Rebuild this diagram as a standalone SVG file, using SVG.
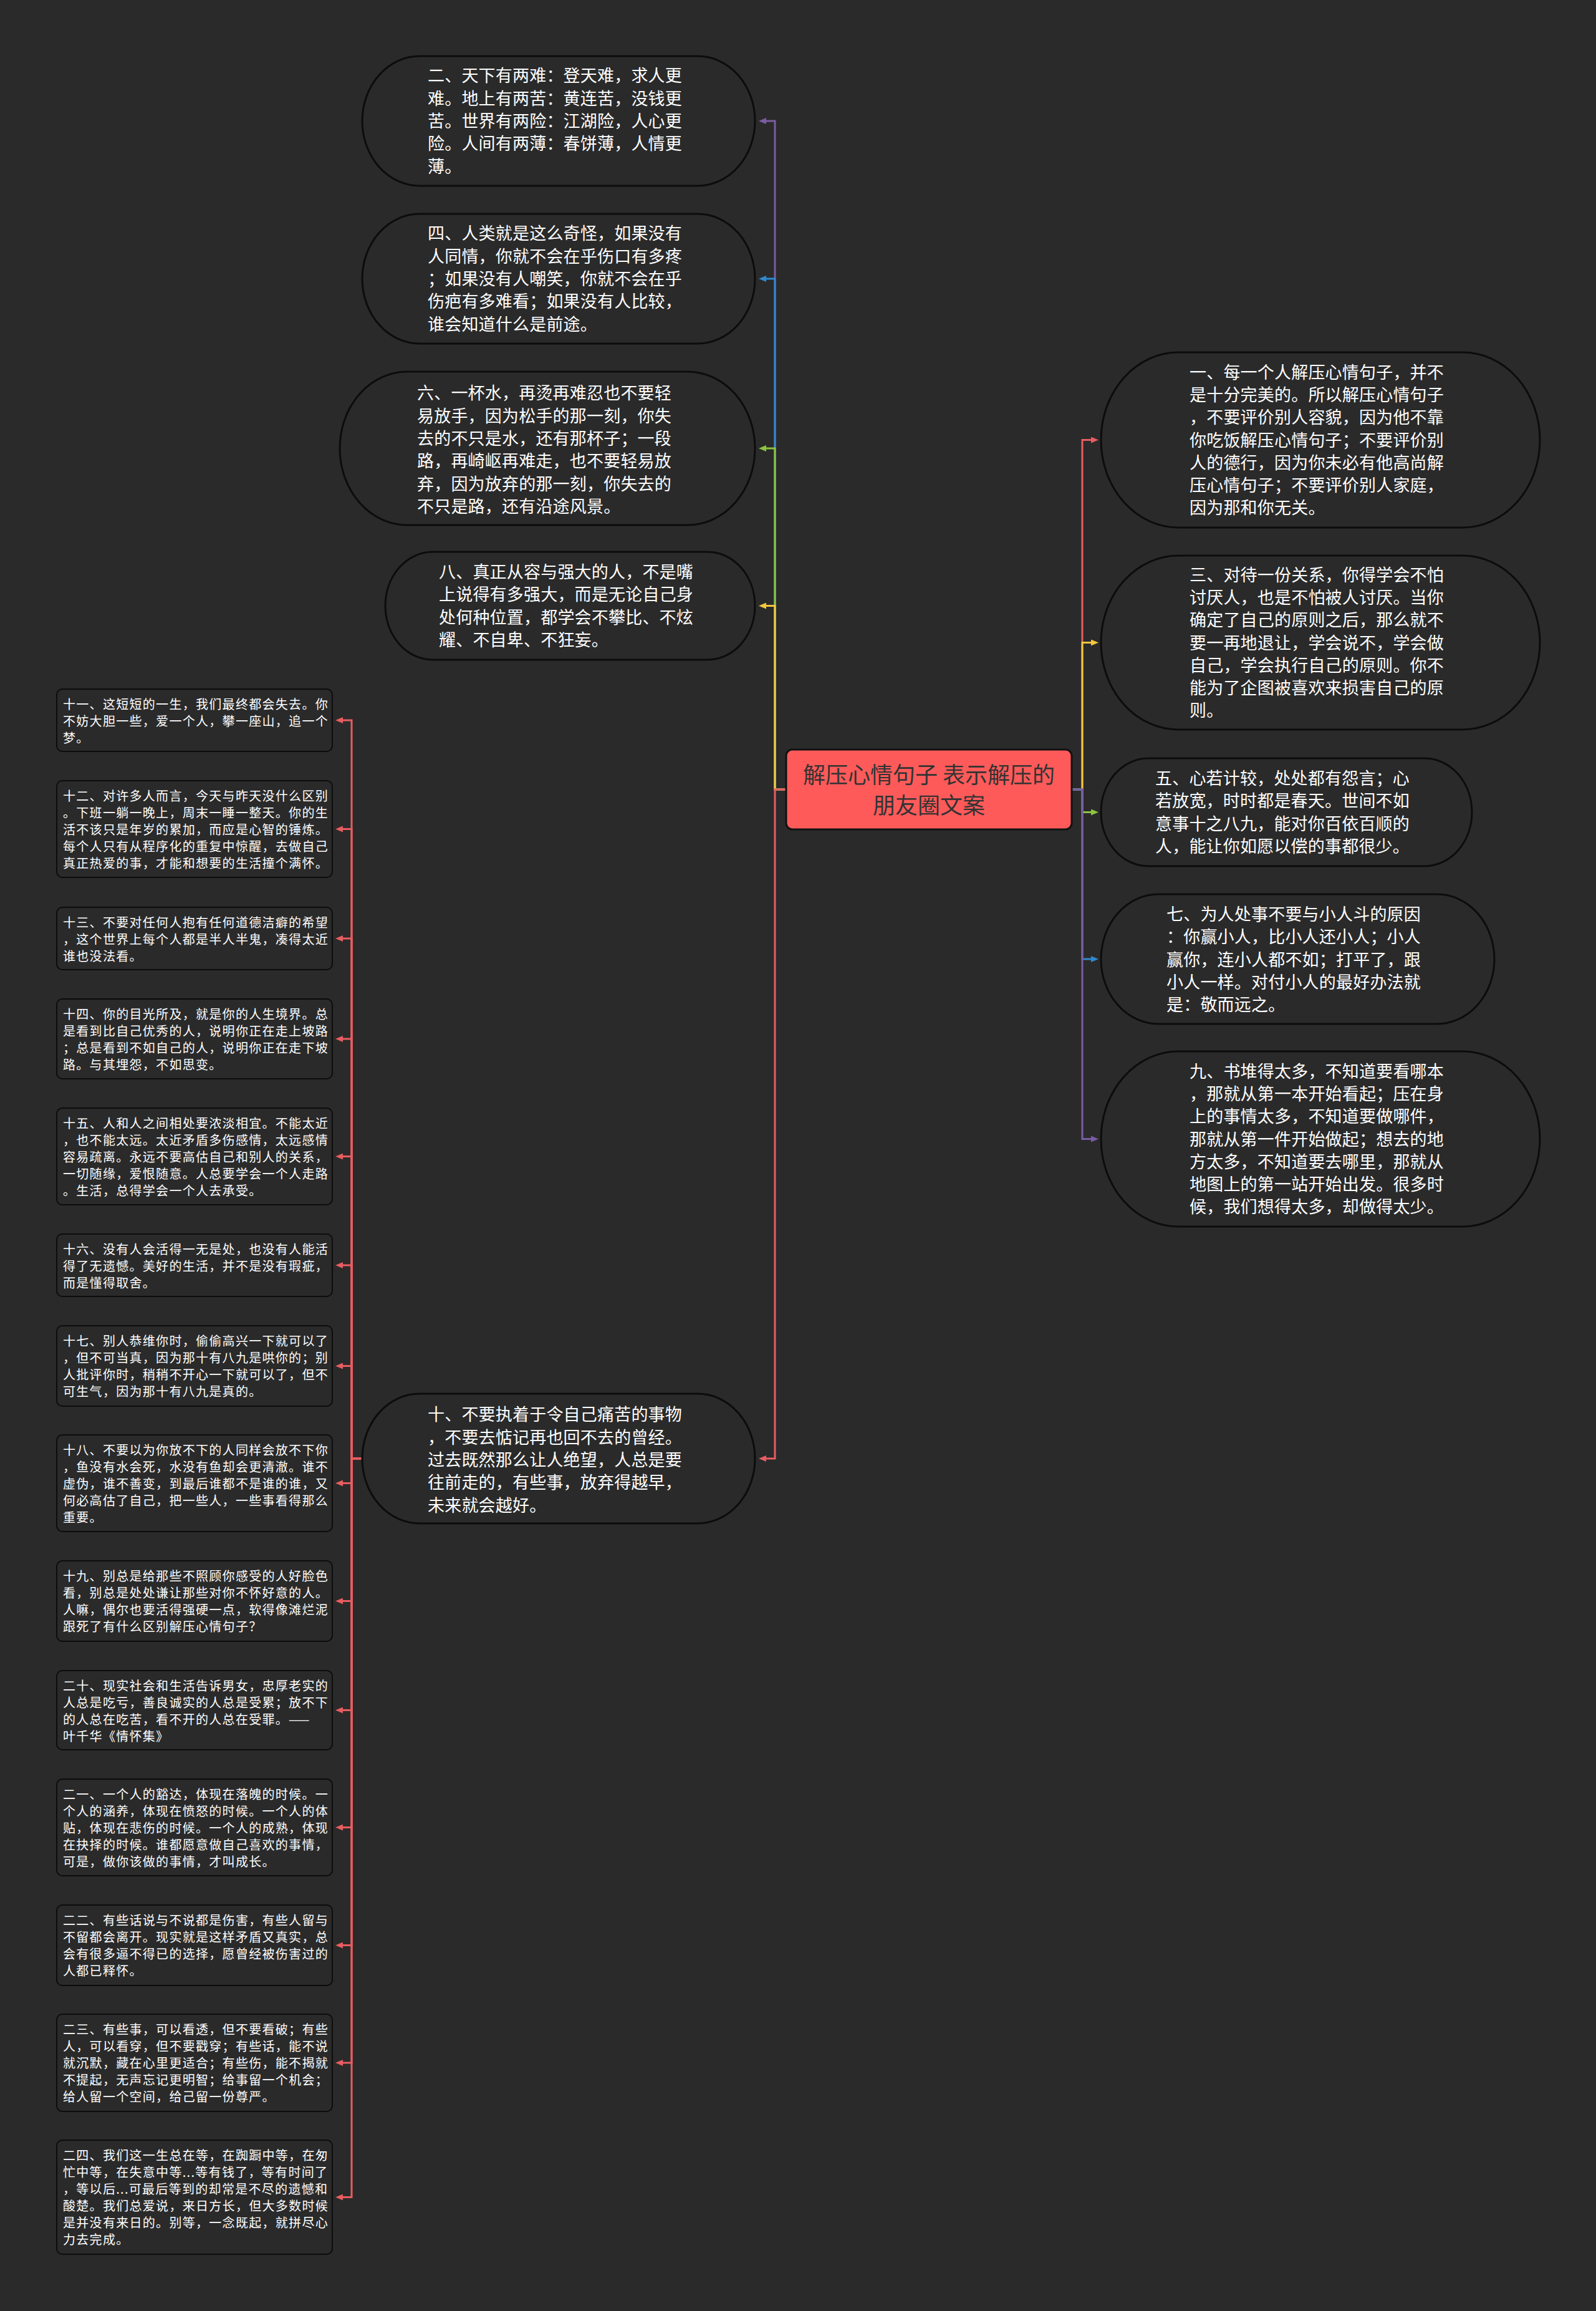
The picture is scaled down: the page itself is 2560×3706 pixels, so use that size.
<svg xmlns="http://www.w3.org/2000/svg" width="2560" height="3706" viewBox="0 0 2560 3706">
<style>
.pill{fill:#2a2a2a;stroke:#0c0c0c;stroke-width:3}
.box{fill:#2a2a2a;stroke:#0c0c0c;stroke-width:2}
.t{font-family:"Noto Sans CJK SC","Noto Sans",sans-serif;fill:#ffffff}
.tb{font-size:27px;letter-spacing:0.2px}
.ts{font-size:20px;letter-spacing:1.3px}
.c{fill:none;stroke-width:3}
.red{stroke:#e85d61}.pur{stroke:#7a5ca3}.blu{stroke:#2f89cf}.grn{stroke:#8cc43f}.yel{stroke:#f3c63f}
</style>
<defs>
<marker id="mr" viewBox="0 0 12 10" refX="4" refY="5" markerWidth="12" markerHeight="10" markerUnits="userSpaceOnUse" orient="auto"><path d="M0,0 L12,5 L0,10 z" fill="#e85d61"/></marker>
<marker id="mp" viewBox="0 0 12 10" refX="4" refY="5" markerWidth="12" markerHeight="10" markerUnits="userSpaceOnUse" orient="auto"><path d="M0,0 L12,5 L0,10 z" fill="#7a5ca3"/></marker>
<marker id="mb" viewBox="0 0 12 10" refX="4" refY="5" markerWidth="12" markerHeight="10" markerUnits="userSpaceOnUse" orient="auto"><path d="M0,0 L12,5 L0,10 z" fill="#2f89cf"/></marker>
<marker id="mg" viewBox="0 0 12 10" refX="4" refY="5" markerWidth="12" markerHeight="10" markerUnits="userSpaceOnUse" orient="auto"><path d="M0,0 L12,5 L0,10 z" fill="#8cc43f"/></marker>
<marker id="my" viewBox="0 0 12 10" refX="4" refY="5" markerWidth="12" markerHeight="10" markerUnits="userSpaceOnUse" orient="auto"><path d="M0,0 L12,5 L0,10 z" fill="#f3c63f"/></marker>
</defs>
<rect x="0" y="0" width="2560" height="3706" fill="#2a2a2a"/>

<g id="connectors">
<path class="c red" d="M1719,1266 H1736 V705.5 H1754" marker-end="url(#mr)"/>
<path class="c yel" d="M1719,1266 H1736 V1030.5 H1754" marker-end="url(#my)"/>
<path class="c grn" d="M1719,1266 H1736 V1302.5 H1754" marker-end="url(#mg)"/>
<path class="c blu" d="M1719,1266 H1736 V1538 H1754" marker-end="url(#mb)"/>
<path class="c pur" d="M1719,1266 H1736 V1826.5 H1754" marker-end="url(#mp)"/>
<path class="c pur" d="M1261,1266 H1243 V194 H1225" marker-end="url(#mp)"/>
<path class="c blu" d="M1261,1266 H1243 V447 H1225" marker-end="url(#mb)"/>
<path class="c grn" d="M1261,1266 H1243 V719 H1225" marker-end="url(#mg)"/>
<path class="c yel" d="M1261,1266 H1243 V971.5 H1225" marker-end="url(#my)"/>
<path class="c red" d="M1261,1266 H1243 V2339 H1225" marker-end="url(#mr)"/>
<path class="c red" d="M581,2339 H564 V1155 H546" marker-end="url(#mr)"/>
<path class="c red" d="M581,2339 H564 V1329.5 H546" marker-end="url(#mr)"/>
<path class="c red" d="M581,2339 H564 V1505 H546" marker-end="url(#mr)"/>
<path class="c red" d="M581,2339 H564 V1666 H546" marker-end="url(#mr)"/>
<path class="c red" d="M581,2339 H564 V1854.5 H546" marker-end="url(#mr)"/>
<path class="c red" d="M581,2339 H564 V2029 H546" marker-end="url(#mr)"/>
<path class="c red" d="M581,2339 H564 V2190.5 H546" marker-end="url(#mr)"/>
<path class="c red" d="M581,2339 H564 V2378.5 H546" marker-end="url(#mr)"/>
<path class="c red" d="M581,2339 H564 V2567.5 H546" marker-end="url(#mr)"/>
<path class="c red" d="M581,2339 H564 V2742.5 H546" marker-end="url(#mr)"/>
<path class="c red" d="M581,2339 H564 V2930.5 H546" marker-end="url(#mr)"/>
<path class="c red" d="M581,2339 H564 V3119.5 H546" marker-end="url(#mr)"/>
<path class="c red" d="M581,2339 H564 V3308 H546" marker-end="url(#mr)"/>
<path class="c red" d="M581,2339 H564 V3523.5 H546" marker-end="url(#mr)"/>
</g>

<g id="center">
<rect x="1261" y="1202" width="458" height="128" rx="10" fill="#ff5a5a" stroke="#111" stroke-width="3"/>
<text font-family="'Noto Sans CJK SC','Noto Sans',sans-serif" font-size="36" fill="#333333" text-anchor="middle"><tspan x="1490" y="1256">解压心情句子 表示解压的</tspan><tspan x="1490" y="1305">朋友圈文案</tspan></text>
</g>

<g id="n2">
<rect class="pill" x="581" y="90" width="630" height="208" rx="92" ry="104"/>
<text class="t tb"><tspan x="686" y="131.4">二、天下有两难：登天难，求人更</tspan><tspan x="686" dy="36.3">难。地上有两苦：黄连苦，没钱更</tspan><tspan x="686" dy="36.3">苦。世界有两险：江湖险，人心更</tspan><tspan x="686" dy="36.3">险。人间有两薄：春饼薄，人情更</tspan><tspan x="686" dy="36.3">薄。</tspan></text>
</g>
<g id="n4">
<rect class="pill" x="581" y="343" width="630" height="208" rx="92" ry="104"/>
<text class="t tb"><tspan x="686" y="384.4">四、人类就是这么奇怪，如果没有</tspan><tspan x="686" dy="36.3">人同情，你就不会在乎伤口有多疼</tspan><tspan x="686" dy="36.3">；如果没有人嘲笑，你就不会在乎</tspan><tspan x="686" dy="36.3">伤疤有多难看；如果没有人比较，</tspan><tspan x="686" dy="36.3">谁会知道什么是前途。</tspan></text>
</g>
<g id="n6">
<rect class="pill" x="545" y="596" width="666" height="246" rx="108" ry="123"/>
<text class="t tb"><tspan x="669" y="640.3">六、一杯水，再烫再难忍也不要轻</tspan><tspan x="669" dy="36.3">易放手，因为松手的那一刻，你失</tspan><tspan x="669" dy="36.3">去的不只是水，还有那杯子；一段</tspan><tspan x="669" dy="36.3">路，再崎岖再难走，也不要轻易放</tspan><tspan x="669" dy="36.3">弃，因为放弃的那一刻，你失去的</tspan><tspan x="669" dy="36.3">不只是路，还有沿途风景。</tspan></text>
</g>
<g id="n8">
<rect class="pill" x="618" y="885" width="593" height="173" rx="76" ry="86.5"/>
<text class="t tb"><tspan x="704" y="927">八、真正从容与强大的人，不是嘴</tspan><tspan x="704" dy="36.3">上说得有多强大，而是无论自己身</tspan><tspan x="704" dy="36.3">处何种位置，都学会不攀比、不炫</tspan><tspan x="704" dy="36.3">耀、不自卑、不狂妄。</tspan></text>
</g>
<g id="n10">
<rect class="pill" x="581" y="2235" width="630" height="208" rx="92" ry="104"/>
<text class="t tb"><tspan x="686" y="2278.4">十、不要执着于令自己痛苦的事物</tspan><tspan x="686" dy="36.3">，不要去惦记再也回不去的曾经。</tspan><tspan x="686" dy="36.3">过去既然那么让人绝望，人总是要</tspan><tspan x="686" dy="36.3">往前走的，有些事，放弃得越早，</tspan><tspan x="686" dy="36.3">未来就会越好。</tspan></text>
</g>

<g id="n1">
<rect class="pill" x="1766" y="565" width="704" height="281" rx="124" ry="140.5"/>
<text class="t tb"><tspan x="1908" y="606.6">一、每一个人解压心情句子，并不</tspan><tspan x="1908" dy="36.3">是十分完美的。所以解压心情句子</tspan><tspan x="1908" dy="36.3">，不要评价别人容貌，因为他不靠</tspan><tspan x="1908" dy="36.3">你吃饭解压心情句子；不要评价别</tspan><tspan x="1908" dy="36.3">人的德行，因为你未必有他高尚解</tspan><tspan x="1908" dy="36.3">压心情句子；不要评价别人家庭，</tspan><tspan x="1908" dy="36.3">因为那和你无关。</tspan></text>
</g>
<g id="n3">
<rect class="pill" x="1766" y="891" width="704" height="279" rx="124" ry="139.5"/>
<text class="t tb"><tspan x="1908" y="931.6">三、对待一份关系，你得学会不怕</tspan><tspan x="1908" dy="36.3">讨厌人，也是不怕被人讨厌。当你</tspan><tspan x="1908" dy="36.3">确定了自己的原则之后，那么就不</tspan><tspan x="1908" dy="36.3">要一再地退让，学会说不，学会做</tspan><tspan x="1908" dy="36.3">自己，学会执行自己的原则。你不</tspan><tspan x="1908" dy="36.3">能为了企图被喜欢来损害自己的原</tspan><tspan x="1908" dy="36.3">则。</tspan></text>
</g>
<g id="n5">
<rect class="pill" x="1766" y="1216" width="595" height="173" rx="76" ry="86.5"/>
<text class="t tb"><tspan x="1853" y="1258">五、心若计较，处处都有怨言；心</tspan><tspan x="1853" dy="36.3">若放宽，时时都是春天。世间不如</tspan><tspan x="1853" dy="36.3">意事十之八九，能对你百依百顺的</tspan><tspan x="1853" dy="36.3">人，能让你如愿以偿的事都很少。</tspan></text>
</g>
<g id="n7">
<rect class="pill" x="1766" y="1434" width="631" height="208" rx="92" ry="104"/>
<text class="t tb"><tspan x="1871" y="1476">七、为人处事不要与小人斗的原因</tspan><tspan x="1871" dy="36.3">：你赢小人，比小人还小人；小人</tspan><tspan x="1871" dy="36.3">赢你，连小人都不如；打平了，跟</tspan><tspan x="1871" dy="36.3">小人一样。对付小人的最好办法就</tspan><tspan x="1871" dy="36.3">是：敬而远之。</tspan></text>
</g>
<g id="n9">
<rect class="pill" x="1766" y="1686" width="704" height="281" rx="124" ry="140.5"/>
<text class="t tb"><tspan x="1908" y="1727.6">九、书堆得太多，不知道要看哪本</tspan><tspan x="1908" dy="36.3">，那就从第一本开始看起；压在身</tspan><tspan x="1908" dy="36.3">上的事情太多，不知道要做哪件，</tspan><tspan x="1908" dy="36.3">那就从第一件开始做起；想去的地</tspan><tspan x="1908" dy="36.3">方太多，不知道要去哪里，那就从</tspan><tspan x="1908" dy="36.3">地图上的第一站开始出发。很多时</tspan><tspan x="1908" dy="36.3">候，我们想得太多，却做得太少。</tspan></text>
</g>

<g id="n11">
<rect class="box" x="91" y="1105" width="442" height="100" rx="9"/>
<text class="t ts"><tspan x="101" y="1137">十一、这短短的一生，我们最终都会失去。你</tspan><tspan x="101" dy="27">不妨大胆一些，爱一个人，攀一座山，追一个</tspan><tspan x="101" dy="27">梦。</tspan></text>
</g>
<g id="n12">
<rect class="box" x="91" y="1252" width="442" height="155" rx="9"/>
<text class="t ts"><tspan x="101" y="1284">十二、对许多人而言，今天与昨天没什么区别</tspan><tspan x="101" dy="27">。下班一躺一晚上，周末一睡一整天。你的生</tspan><tspan x="101" dy="27">活不该只是年岁的累加，而应是心智的锤炼。</tspan><tspan x="101" dy="27">每个人只有从程序化的重复中惊醒，去做自己</tspan><tspan x="101" dy="27">真正热爱的事，才能和想要的生活撞个满怀。</tspan></text>
</g>
<g id="n13">
<rect class="box" x="91" y="1455" width="442" height="100" rx="9"/>
<text class="t ts"><tspan x="101" y="1487">十三、不要对任何人抱有任何道德洁癖的希望</tspan><tspan x="101" dy="27">，这个世界上每个人都是半人半鬼，凑得太近</tspan><tspan x="101" dy="27">谁也没法看。</tspan></text>
</g>
<g id="n14">
<rect class="box" x="91" y="1602" width="442" height="128" rx="9"/>
<text class="t ts"><tspan x="101" y="1634">十四、你的目光所及，就是你的人生境界。总</tspan><tspan x="101" dy="27">是看到比自己优秀的人，说明你正在走上坡路</tspan><tspan x="101" dy="27">；总是看到不如自己的人，说明你正在走下坡</tspan><tspan x="101" dy="27">路。与其埋怨，不如思变。</tspan></text>
</g>
<g id="n15">
<rect class="box" x="91" y="1777" width="442" height="155" rx="9"/>
<text class="t ts"><tspan x="101" y="1809">十五、人和人之间相处要浓淡相宜。不能太近</tspan><tspan x="101" dy="27">，也不能太远。太近矛盾多伤感情，太远感情</tspan><tspan x="101" dy="27">容易疏离。永远不要高估自己和别人的关系，</tspan><tspan x="101" dy="27">一切随缘，爱恨随意。人总要学会一个人走路</tspan><tspan x="101" dy="27">。生活，总得学会一个人去承受。</tspan></text>
</g>
<g id="n16">
<rect class="box" x="91" y="1979" width="442" height="100" rx="9"/>
<text class="t ts"><tspan x="101" y="2011">十六、没有人会活得一无是处，也没有人能活</tspan><tspan x="101" dy="27">得了无遗憾。美好的生活，并不是没有瑕疵，</tspan><tspan x="101" dy="27">而是懂得取舍。</tspan></text>
</g>
<g id="n17">
<rect class="box" x="91" y="2126" width="442" height="129" rx="9"/>
<text class="t ts"><tspan x="101" y="2158">十七、别人恭维你时，偷偷高兴一下就可以了</tspan><tspan x="101" dy="27">，但不可当真，因为那十有八九是哄你的；别</tspan><tspan x="101" dy="27">人批评你时，稍稍不开心一下就可以了，但不</tspan><tspan x="101" dy="27">可生气，因为那十有八九是真的。</tspan></text>
</g>
<g id="n18">
<rect class="box" x="91" y="2301" width="442" height="155" rx="9"/>
<text class="t ts"><tspan x="101" y="2333">十八、不要以为你放不下的人同样会放不下你</tspan><tspan x="101" dy="27">，鱼没有水会死，水没有鱼却会更清澈。谁不</tspan><tspan x="101" dy="27">虚伪，谁不善变，到最后谁都不是谁的谁，又</tspan><tspan x="101" dy="27">何必高估了自己，把一些人，一些事看得那么</tspan><tspan x="101" dy="27">重要。</tspan></text>
</g>
<g id="n19">
<rect class="box" x="91" y="2503" width="442" height="129" rx="9"/>
<text class="t ts"><tspan x="101" y="2535">十九、别总是给那些不照顾你感受的人好脸色</tspan><tspan x="101" dy="27">看，别总是处处谦让那些对你不怀好意的人。</tspan><tspan x="101" dy="27">人嘛，偶尔也要活得强硬一点，软得像滩烂泥</tspan><tspan x="101" dy="27">跟死了有什么区别解压心情句子？</tspan></text>
</g>
<g id="n20">
<rect class="box" x="91" y="2679" width="442" height="127" rx="9"/>
<text class="t ts"><tspan x="101" y="2711">二十、现实社会和生活告诉男女，忠厚老实的</tspan><tspan x="101" dy="27">人总是吃亏，善良诚实的人总是受累；放不下</tspan><tspan x="101" dy="27">的人总在吃苦，看不开的人总在受罪。——</tspan><tspan x="101" dy="27">叶千华《情怀集》</tspan></text>
</g>
<g id="n21">
<rect class="box" x="91" y="2853" width="442" height="155" rx="9"/>
<text class="t ts"><tspan x="101" y="2885">二一、一个人的豁达，体现在落魄的时候。一</tspan><tspan x="101" dy="27">个人的涵养，体现在愤怒的时候。一个人的体</tspan><tspan x="101" dy="27">贴，体现在悲伤的时候。一个人的成熟，体现</tspan><tspan x="101" dy="27">在抉择的时候。谁都愿意做自己喜欢的事情，</tspan><tspan x="101" dy="27">可是，做你该做的事情，才叫成长。</tspan></text>
</g>
<g id="n22">
<rect class="box" x="91" y="3055" width="442" height="129" rx="9"/>
<text class="t ts"><tspan x="101" y="3087">二二、有些话说与不说都是伤害，有些人留与</tspan><tspan x="101" dy="27">不留都会离开。现实就是这样矛盾又真实，总</tspan><tspan x="101" dy="27">会有很多逼不得已的选择，愿曾经被伤害过的</tspan><tspan x="101" dy="27">人都已释怀。</tspan></text>
</g>
<g id="n23">
<rect class="box" x="91" y="3230" width="442" height="156" rx="9"/>
<text class="t ts"><tspan x="101" y="3262">二三、有些事，可以看透，但不要看破；有些</tspan><tspan x="101" dy="27">人，可以看穿，但不要戳穿；有些话，能不说</tspan><tspan x="101" dy="27">就沉默，藏在心里更适合；有些伤，能不揭就</tspan><tspan x="101" dy="27">不提起，无声忘记更明智；给事留一个机会；</tspan><tspan x="101" dy="27">给人留一个空间，给己留一份尊严。</tspan></text>
</g>
<g id="n24">
<rect class="box" x="91" y="3432" width="442" height="183" rx="9"/>
<text class="t ts"><tspan x="101" y="3464">二四、我们这一生总在等，在踟蹰中等，在匆</tspan><tspan x="101" dy="27">忙中等，在失意中等...等有钱了，等有时间了</tspan><tspan x="101" dy="27">，等以后...可最后等到的却常是不尽的遗憾和</tspan><tspan x="101" dy="27">酸楚。我们总爱说，来日方长，但大多数时候</tspan><tspan x="101" dy="27">是并没有来日的。别等，一念既起，就拼尽心</tspan><tspan x="101" dy="27">力去完成。</tspan></text>
</g>
</svg>
